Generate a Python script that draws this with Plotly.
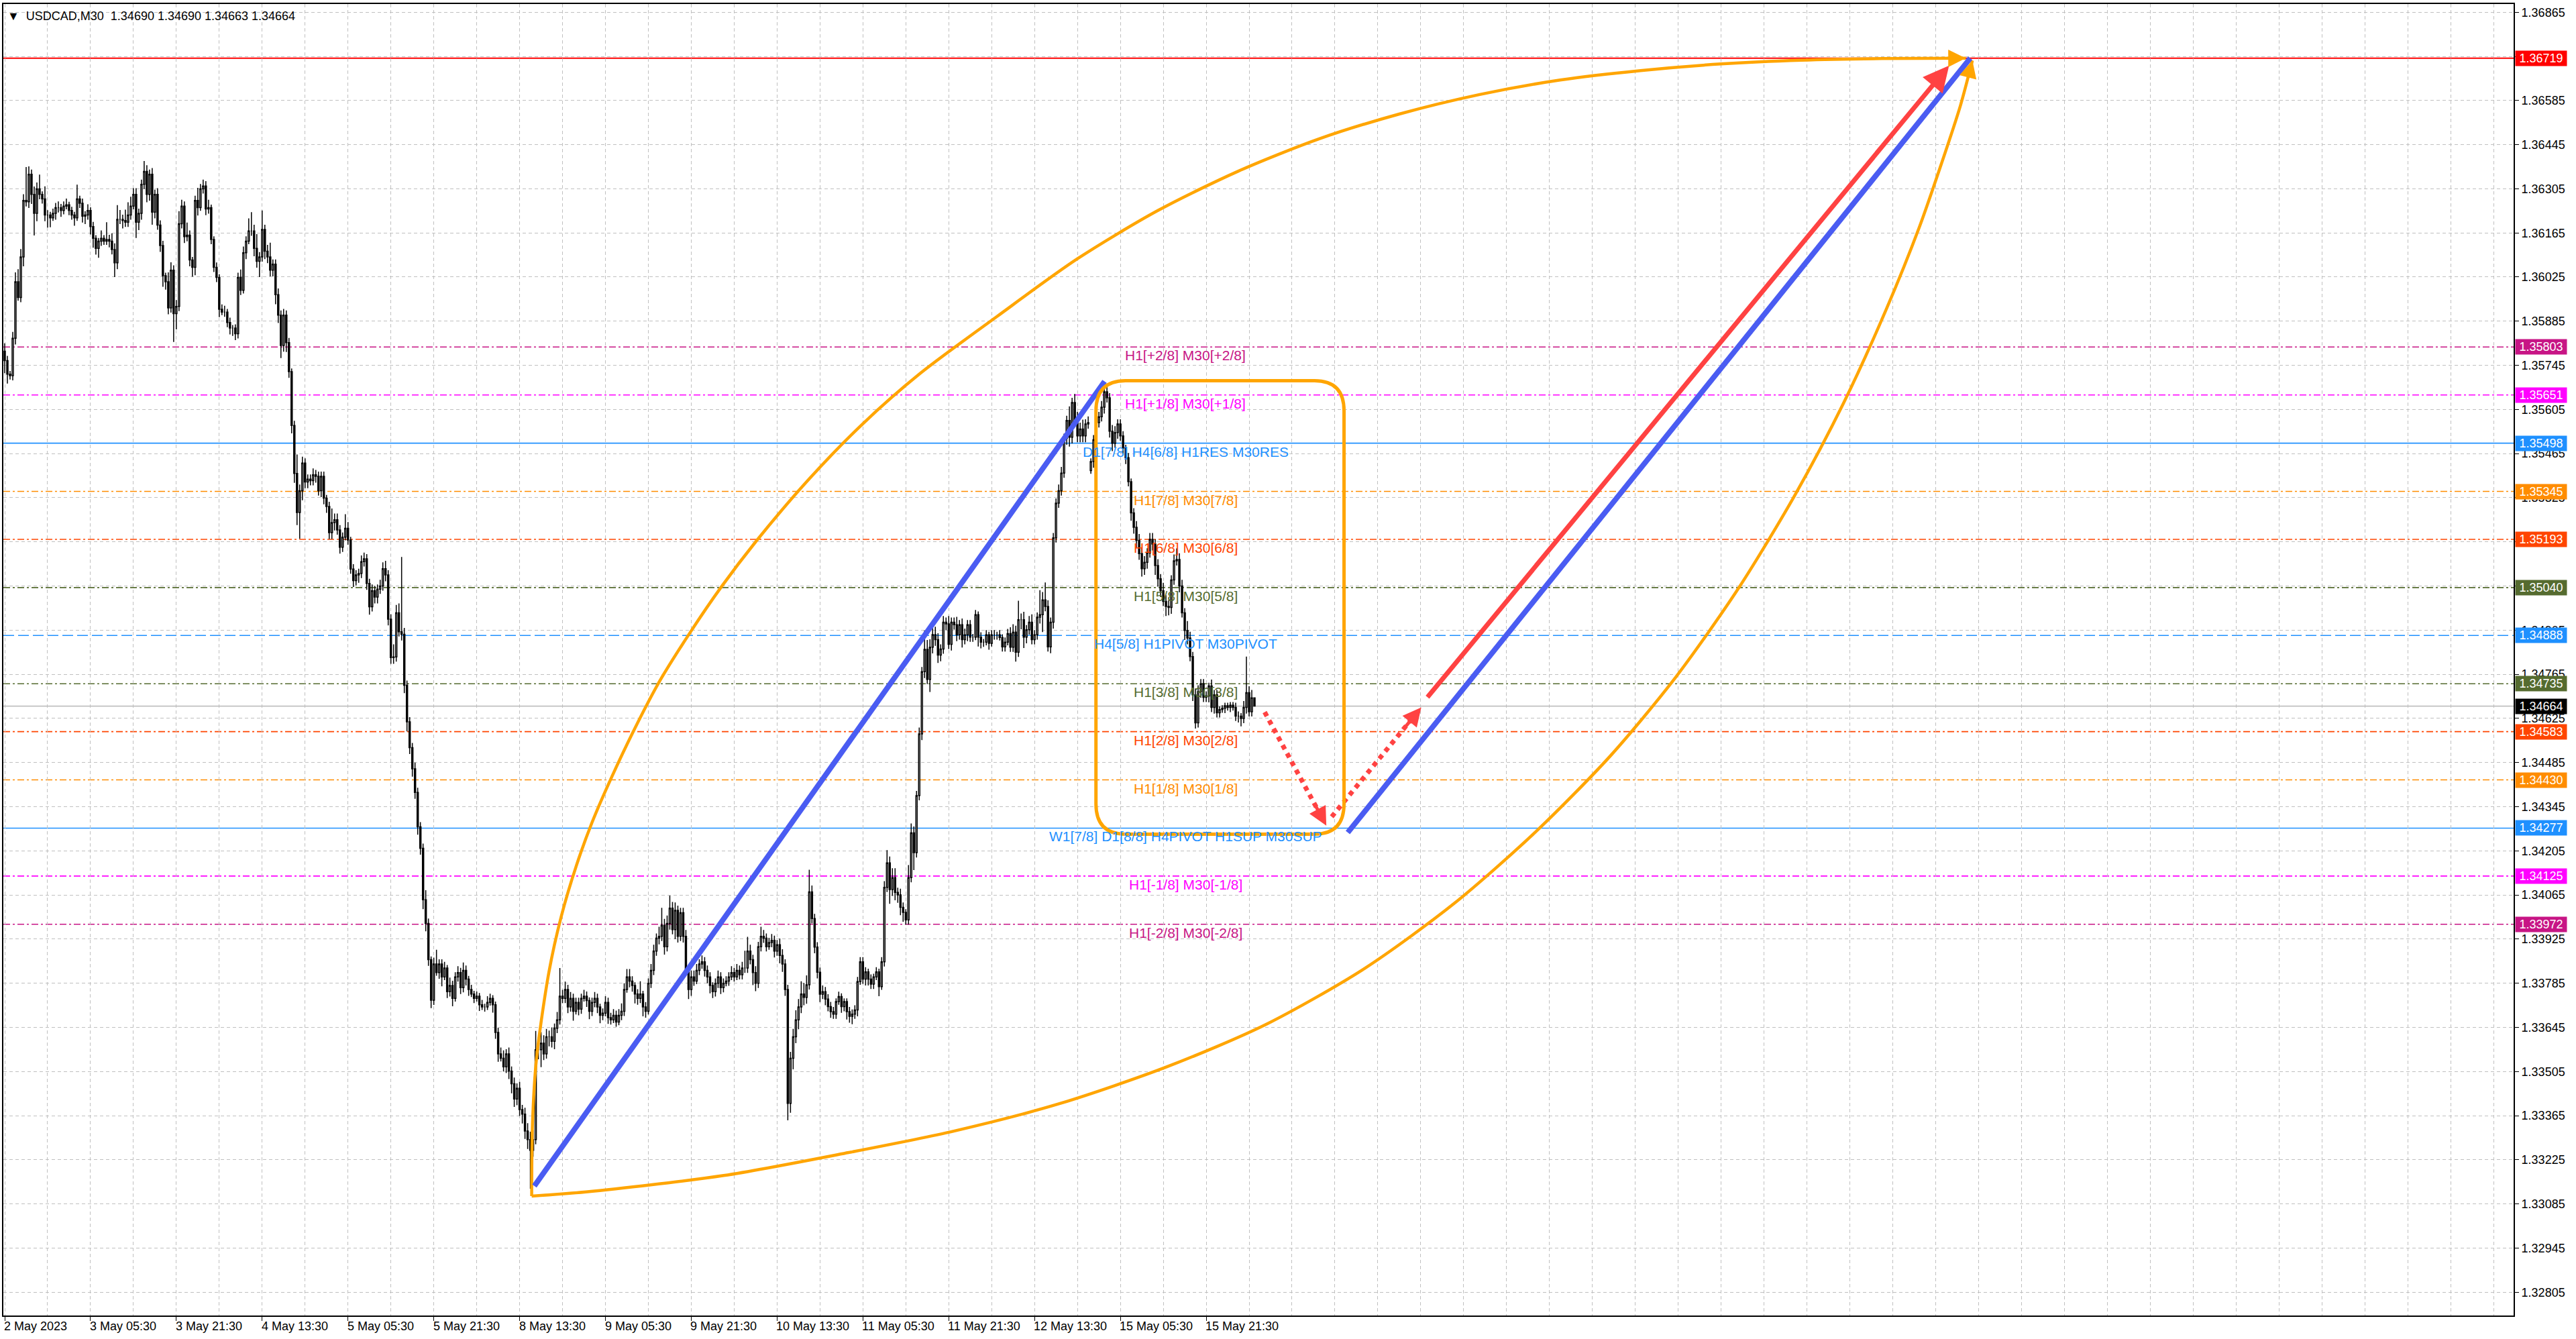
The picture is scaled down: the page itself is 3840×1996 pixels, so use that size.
import plotly.graph_objects as go

BASE = 1.30000          # prices are stored as points (1e-5) above this
FONT = "Liberation Sans"

# USDCAD M30 bars, one list per trading day: (close, upper wick, lower wick) in points.
# open of a bar = close of the bar before it (except the weekend gap below)
may02 = [
    (5760, 25, 40), (5717, 15, 30), (5712, 10, 12), (5831, 20, 15), (6010, 30, 20), (5960, 40, 10), (6089, 25, 15), (6268, 20, 30), (6264, 106, 15), (6351, 25, 20),
    (6287, 15, 30), (6227, 25, 70), (6305, 20, 25), (6287, 45, 15), (6273, 10, 15), (6222, 40, 20), (6222, 15, 40), (6213, 10, 30), (6227, 15, 10), (6245, 15, 20),
    (6245, 20, 15),
]
may03 = [
    (6236, 12, 20), (6250, 15, 12), (6254, 20, 10), (6236, 10, 15), (6222, 12, 15), (6213, 10, 25), (6273, 45, 10), (6259, 10, 15), (6218, 15, 20), (6222, 12, 25),
    (6236, 20, 15), (6185, 10, 25), (6148, 15, 30), (6116, 10, 20), (6139, 10, 30), (6148, 25, 15), (6139, 10, 12), (6144, 55, 12), (6139, 15, 20), (6112, 25, 15),
    (6070, 20, 45), (6208, 45, 20), (6208, 30, 15), (6204, 15, 25), (6199, 35, 15), (6222, 40, 15), (6250, 30, 15), (6287, 20, 10), (6199, 20, 50), (6227, 15, 25),
    (6319, 15, 20), (6360, 33, 15), (6287, 20, 25), (6351, 15, 20), (6231, 20, 40), (6287, 15, 20), (6190, 20, 15), (6125, 15, 20), (6029, 15, 35), (6010, 10, 25),
    (5927, 30, 20), (6047, 25, 15), (5909, 15, 90), (5932, 20, 50), (6194, 40, 15), (6250, 20, 15), (6153, 15, 20), (6158, 40, 15),
]
may04 = [
    (6079, 15, 20), (6056, 10, 30), (6268, 15, 25), (6245, 40, 25), (6305, 15, 10), (6314, 20, 15), (6241, 15, 20), (6245, 25, 15), (6144, 10, 15), (6056, 10, 15),
    (6024, 15, 15), (5923, 10, 25), (5914, 15, 10), (5914, 20, 15), (5881, 10, 15), (5863, 15, 20), (5863, 10, 25), (5845, 12, 20), (6024, 15, 15), (5983, 25, 15),
    (6102, 20, 10), (6139, 15, 20), (6171, 40, 10), (6171, 60, 15), (6116, 20, 25), (6075, 45, 20), (6089, 15, 50), (6176, 60, 15), (6107, 15, 25), (6089, 20, 20),
    (6047, 45, 20), (6066, 15, 20), (5969, 15, 30), (5904, 20, 25), (5808, 15, 40), (5904, 20, 20), (5817, 15, 30), (5725, 15, 20), (5554, 10, 25), (5402, 15, 30),
    (5278, 60, 40), (5347, 20, 83), (5435, 20, 30), (5375, 15, 20), (5384, 15, 20), (5379, 15, 15), (5398, 20, 15), (5393, 15, 20),
]
may05 = [
    (5347, 15, 15), (5393, 15, 20), (5324, 15, 20), (5297, 10, 20), (5214, 15, 20), (5246, 45, 20), (5255, 20, 25), (5223, 20, 15), (5168, 15, 20), (5200, 15, 15),
    (5228, 45, 10), (5191, 20, 15), (5099, 10, 15), (5062, 15, 20), (5080, 15, 15), (5085, 15, 25), (5122, 20, 15), (5131, 20, 15), (5053, 15, 20), (4979, 15, 25),
    (5030, 20, 15), (5010, 15, 20), (5035, 15, 20), (5045, 20, 15), (5100, 20, 15), (5080, 25, 20), (4940, 15, 20), (4818, 15, 20), (4820, 40, 20), (4960, 25, 15),
    (4900, 30, 15), (4892, 237, 20), (4730, 20, 25), (4614, 15, 30), (4532, 15, 20), (4465, 15, 25), (4390, 20, 20), (4281, 15, 25), (4213, 15, 20), (4050, 15, 30),
    (3975, 30, 25), (3860, 15, 20), (3731, 10, 25), (3846, 20, 15), (3819, 45, 10), (3846, 15, 20), (3805, 15, 30), (3833, 20, 10),
]
may08 = [
    (3758, 10, 20), (3778, 25, 15), (3737, 15, 25), (3805, 15, 10), (3819, 20, 15), (3771, 15, 20), (3826, 25, 15), (3798, 15, 20), (3765, 10, 20), (3751, 15, 10),
    (3737, 10, 15), (3744, 15, 10), (3717, 10, 20), (3710, 15, 10), (3710, 10, 15), (3724, 20, 10), (3737, 15, 10), (3717, 10, 25), (3629, 10, 20), (3561, 15, 25),
    (3547, 20, 10), (3520, 25, 15), (3561, 15, 20), (3506, 20, 25), (3466, 15, 30), (3418, 20, 25), (3452, 15, 20), (3384, 20, 20), (3370, 15, 30), (3316, 20, 25),
    (3289, 25, 30), (3255, 25, 122), (3289, 30, 20), (3574, 60, 15), (3574, 40, 30), (3595, 35, 55), (3561, 25, 20), (3615, 25, 15), (3615, 20, 30), (3601, 30, 20),
    (3642, 15, 25), (3669, 25, 15), (3744, 89, 15), (3737, 20, 15), (3765, 25, 15), (3710, 15, 20), (3737, 20, 15), (3696, 15, 30),
]
may09 = [
    (3724, 15, 10), (3703, 15, 20), (3737, 15, 15), (3744, 20, 10), (3730, 15, 20), (3696, 10, 25), (3724, 15, 15), (3737, 20, 15), (3710, 15, 20), (3683, 10, 25),
    (3690, 15, 15), (3724, 20, 10), (3676, 15, 20), (3669, 15, 15), (3683, 20, 10), (3662, 15, 15), (3683, 20, 10), (3696, 25, 15), (3765, 20, 15), (3805, 25, 10),
    (3792, 25, 20), (3778, 15, 20), (3751, 10, 30), (3737, 15, 20), (3751, 40, 15), (3710, 10, 30), (3696, 15, 20), (3785, 15, 10), (3826, 20, 15), (3887, 20, 15),
    (3928, 15, 15), (3934, 30, 20), (3969, 55, 15), (3901, 20, 25), (3975, 25, 15), (4023, 40, 20), (3955, 20, 15), (4016, 25, 30), (3934, 15, 20), (4009, 15, 15),
    (3934, 15, 20), (3826, 20, 15), (3765, 15, 30), (3805, 20, 20), (3792, 20, 15), (3826, 20, 10), (3846, 15, 15), (3853, 20, 15),
]
may10 = [
    (3826, 15, 20), (3805, 15, 20), (3778, 15, 25), (3758, 10, 20), (3785, 15, 15), (3805, 20, 15), (3771, 15, 20), (3785, 15, 15), (3792, 15, 10), (3805, 15, 15),
    (3819, 20, 10), (3805, 15, 15), (3826, 20, 10), (3812, 15, 15), (3833, 20, 15), (3833, 55, 15), (3887, 45, 15), (3860, 20, 15), (3819, 15, 40), (3785, 20, 25),
    (3901, 15, 15), (3934, 30, 15), (3928, 20, 15), (3901, 15, 15), (3914, 15, 10), (3921, 20, 15), (3887, 15, 20), (3907, 15, 15), (3873, 20, 25), (3846, 20, 25),
    (3765, 15, 20), (3404, 15, 54), (3547, 20, 30), (3615, 25, 35), (3669, 30, 20), (3710, 25, 30), (3751, 40, 20), (3740, 35, 25), (3780, 30, 20), (4075, 70, 15),
    (3990, 20, 15), (3900, 15, 20), (3820, 15, 20), (3750, 15, 25), (3758, 20, 15), (3735, 15, 20), (3711, 15, 15), (3695, 15, 20),
]
may11 = [
    (3687, 15, 15), (3727, 10, 15), (3743, 15, 10), (3711, 10, 20), (3727, 10, 15), (3695, 10, 25), (3680, 15, 20), (3687, 15, 25), (3700, 15, 15), (3790, 15, 20),
    (3853, 15, 10), (3798, 15, 15), (3821, 15, 20), (3798, 10, 20), (3782, 15, 15), (3805, 10, 15), (3821, 15, 10), (3774, 10, 30), (3853, 15, 10), (4089, 20, 15),
    (4167, 40, 15), (4082, 20, 45), (4120, 30, 20), (4073, 30, 25), (4065, 15, 25), (4026, 20, 25), (4010, 15, 30), (3986, 10, 15), (4120, 40, 15), (4262, 30, 15),
    (4199, 20, 55), (4380, 15, 15), (4576, 20, 15), (4773, 15, 20), (4844, 60, 20), (4749, 30, 15), (4851, 25, 40), (4891, 20, 20), (4875, 25, 20), (4826, 20, 25),
    (4845, 15, 20), (4930, 20, 15), (4925, 15, 20), (4860, 25, 15), (4930, 15, 20), (4922, 15, 15), (4890, 25, 20), (4922, 15, 15),
]
may12 = [
    (4875, 20, 25), (4890, 20, 15), (4922, 15, 20), (4883, 15, 15), (4883, 10, 15), (4954, 15, 10), (4883, 10, 30), (4867, 15, 20), (4867, 10, 15), (4890, 15, 10),
    (4863, 10, 20), (4890, 15, 10), (4890, 15, 15), (4890, 10, 15), (4882, 15, 10), (4852, 10, 15), (4867, 15, 15), (4894, 15, 10), (4851, 20, 15), (4899, 25, 15),
    (4835, 20, 30), (4938, 60, 15), (4938, 20, 30), (4883, 25, 35), (4906, 15, 20), (4930, 20, 15), (4875, 25, 15), (4890, 15, 15), (4946, 15, 15), (4954, 78, 20),
    (5001, 25, 55), (4980, 55, 15), (4852, 20, 15), (4930, 15, 20), (5198, 15, 20), (5308, 15, 15), (5347, 20, 15), (5403, 20, 15), (5513, 15, 15), (5570, 15, 20),
    (5517, 45, 30), (5627, 15, 20), (5572, 27, 15), (5521, 25, 20), (5543, 20, 20), (5521, 30, 20), (5559, 15, 20), (5563, 20, 15),
]
may15 = [
    (5440, 10, 10), (5509, 15, 20), (5563, 15, 20), (5582, 15, 15), (5612, 20, 15), (5661, 15, 20), (5642, 19, 15), (5536, 15, 20), (5498, 20, 25), (5532, 20, 15),
    (5559, 15, 20), (5521, 15, 15), (5483, 15, 20), (5452, 10, 20), (5376, 15, 15), (5277, 10, 25), (5231, 15, 20), (5190, 20, 25), (5148, 20, 20), (5100, 20, 25),
    (5120, 20, 20), (5150, 15, 20), (5193, 20, 15), (5178, 20, 20), (5110, 15, 30), (5068, 20, 25), (5030, 15, 20), (4996, 25, 15), (4980, 20, 30), (4977, 20, 25),
    (5064, 15, 20), (5125, 20, 15), (5129, 35, 15), (5045, 20, 20), (4960, 20, 15), (4904, 15, 30), (4880, 30, 20), (4821, 20, 15), (4700, 15, 20), (4611, 20, 18),
    (4710, 20, 15), (4735, 15, 20), (4692, 15, 15), (4696, 15, 15), (4728, 10, 20), (4660, 20, 15), (4700, 15, 20), (4643, 15, 15),
]
may16 = [
    (4653, 10, 15), (4657, 10, 10), (4665, 10, 15), (4660, 10, 10), (4667, 10, 15), (4660, 10, 10), (4632, 15, 15), (4632, 15, 20), (4625, 10, 25), (4660, 20, 15),
    (4707, 114, 20), (4646, 20, 15), (4690, 25, 15), (4664, 0, 1),
]
first_open = 5790
gap_opens = {405: 5411}   # Monday 15 May opened below Friday's close

time_labels = ["2 May 2023", "3 May 05:30", "3 May 21:30", "4 May 13:30", "5 May 05:30",
               "5 May 21:30", "8 May 13:30", "9 May 05:30", "9 May 21:30", "10 May 13:30",
               "11 May 05:30", "11 May 21:30", "12 May 13:30", "15 May 05:30", "15 May 21:30"]

# Murrey math levels
level_prices = [1.35803, 1.35651, 1.35498, 1.35345, 1.35193, 1.35040, 1.34888,
                1.34735, 1.34583, 1.34430, 1.34277, 1.34125, 1.33972]
level_colors = ["#C71585", "#FF00FF", "#1E90FF", "#FF8C00", "#FF4500", "#556B2F", "#1E90FF",
                "#556B2F", "#FF4500", "#FF8C00", "#1E90FF", "#FF00FF", "#C71585"]
level_styles = ["dashdot", "dashdot", "solid", "dashdot", "dashdot", "dashdot", "dash",
                "dashdot", "dashdot", "dashdot", "solid", "dashdot", "dashdot"]
level_texts = ["H1[+2/8] M30[+2/8]", "H1[+1/8] M30[+1/8]", "D1[7/8] H4[6/8] H1RES M30RES",
               "H1[7/8] M30[7/8]", "H1[6/8] M30[6/8]", "H1[5/8] M30[5/8]", "H4[5/8] H1PIVOT M30PIVOT",
               "H1[3/8] M30[3/8]", "H1[2/8] M30[2/8]", "H1[1/8] M30[1/8]",
               "W1[7/8] D1[8/8] H4PIVOT H1SUP M30SUP", "H1[-1/8] M30[-1/8]", "H1[-2/8] M30[-2/8]"]
target_price = 1.36719
last_price = 1.34664
header = "USDCAD,M30  1.34690 1.34690 1.34663 1.34664"

# drawn objects, in (bar, price)
blue_leg1 = [(197.5, 1.33142), (410.1, 1.35694)]
blue_leg2 = [(500.8, 1.34263), (732.9, 1.36719)]
red_arrow = [(530.2, 1.34689), (725.0, 1.36696)]
dotted_down = [(469.8, 1.34645), (492.8, 1.34285)]
dotted_up = [(494.8, 1.34313), (528.2, 1.34660)]
upper_arc_x = [196.5, 196.8, 198.3, 202.9, 207.5, 213.2, 219.0, 225.9, 235.0, 244.2, 255.7, 267.2,
               280.0, 300.0, 320.0, 341.3, 370.0, 400.0, 430.0, 460.0, 490.0, 520.0, 550.0, 580.0,
               610.0, 640.0, 670.0, 700.0, 731.2]
upper_arc_y = [1.33110, 1.33340, 1.33547, 1.33819, 1.33996, 1.34159, 1.34295, 1.34431, 1.34594, 1.34743,
               1.34899, 1.35042, 1.35185, 1.35385, 1.35560, 1.35719, 1.35900, 1.36083, 1.36236, 1.36361,
               1.36463, 1.36542, 1.36604, 1.36650, 1.36680, 1.36701, 1.36713, 1.36718, 1.36719]
lower_arc_x = [196.5, 216.7, 268.1, 314.7, 353.9, 393.7, 433.4, 470.2, 506.9, 540.6, 571.2, 598.8,
               623.2, 646.5, 667.3, 685.7, 701.6, 713.9, 722.4, 729.2, 733.7]
lower_arc_y = [1.33110, 1.33123, 1.33175, 1.33248, 1.33316, 1.33404, 1.33520, 1.33654, 1.33831, 1.34039,
               1.34268, 1.34507, 1.34757, 1.35038, 1.35330, 1.35626, 1.35923, 1.36183, 1.36391, 1.36568,
               1.36712]
zone_box = dict(x0=406.9, x1=499.4, y0=1.34258, y1=1.35696, rx=11.0, ry=0.00096)

ORANGE = "#FFA500"
BLUE = "#4A5CF2"
RED = "#FF4242"
GRID = "#C0C0C0"
DASHDOT = "10px,4px,3px,4px"
DASH_LONG = "16px,6px"

days = [may02, may03, may04, may05, may08, may09, may10, may11, may12, may15, may16]
bars = [b for day in days for b in day]
assert len(bars) == 467, len(bars)

opens, highs, lows, closes = [], [], [], []
prev = first_open
for i, (c, up, dn) in enumerate(bars):
    o = gap_opens.get(i, prev)
    opens.append(BASE + o / 1e5)
    closes.append(BASE + c / 1e5)
    highs.append(BASE + (max(o, c) + up) / 1e5)
    lows.append(BASE + (min(o, c) - dn) / 1e5)
    prev = c
xs = list(range(len(bars)))

fig = go.Figure()

fig.add_trace(go.Candlestick(
    x=xs, open=opens, high=highs, low=lows, close=closes,
    increasing=dict(line=dict(color="black", width=1.5), fillcolor="white"),
    decreasing=dict(line=dict(color="black", width=1.5), fillcolor="black"),
    whiskerwidth=0, showlegend=False, hoverinfo="skip",
))

# orange arcs
for ax_, ay_ in [(upper_arc_x, upper_arc_y), (lower_arc_x, lower_arc_y)]:
    fig.add_trace(go.Scatter(x=ax_, y=ay_, mode="lines", line=dict(color=ORANGE, width=4.5, shape="spline", smoothing=0.8),
                             showlegend=False, hoverinfo="skip"))

# blue trend legs
for leg in [blue_leg1, blue_leg2]:
    fig.add_trace(go.Scatter(x=[p[0] for p in leg], y=[p[1] for p in leg], mode="lines",
                             line=dict(color=BLUE, width=8), showlegend=False, hoverinfo="skip"))

# red dotted path
for seg in [dotted_down, dotted_up]:
    (x0, y0), (x1, y1) = seg
    fig.add_trace(go.Scatter(x=[x0, x0 + 0.9 * (x1 - x0)], y=[y0, y0 + 0.9 * (y1 - y0)], mode="lines",
                             line=dict(color=RED, width=7, dash="dot"), showlegend=False, hoverinfo="skip"))

shapes = []
for p, col, st in zip(level_prices, level_colors, level_styles):
    dash = {"dashdot": DASHDOT, "dash": DASH_LONG, "solid": "solid"}[st]
    shapes.append(dict(type="line", xref="paper", x0=0, x1=1, yref="y", y0=p, y1=p,
                       line=dict(color=col, width=1.6, dash=dash), layer="below"))
shapes.append(dict(type="line", xref="paper", x0=0, x1=1, yref="y", y0=last_price, y1=last_price,
                   line=dict(color=GRID, width=1.6), layer="below"))
shapes.append(dict(type="line", xref="paper", x0=0, x1=1, yref="y", y0=target_price, y1=target_price,
                   line=dict(color="#FF0000", width=2), layer="below"))

b = zone_box
path = (f"M {b['x0'] + b['rx']},{b['y1']} L {b['x1'] - b['rx']},{b['y1']} "
        f"Q {b['x1']},{b['y1']} {b['x1']},{b['y1'] - b['ry']} L {b['x1']},{b['y0'] + b['ry']} "
        f"Q {b['x1']},{b['y0']} {b['x1'] - b['rx']},{b['y0']} L {b['x0'] + b['rx']},{b['y0']} "
        f"Q {b['x0']},{b['y0']} {b['x0']},{b['y0'] + b['ry']} L {b['x0']},{b['y1'] - b['ry']} "
        f"Q {b['x0']},{b['y1']} {b['x0'] + b['rx']},{b['y1']} Z")
shapes.append(dict(type="path", path=path, xref="x", yref="y", line=dict(color=ORANGE, width=5)))

annotations = []
label_x = 440.25
for p, col, txt in zip(level_prices, level_colors, level_texts):
    annotations.append(dict(x=label_x, y=p, xref="x", yref="y", text=txt, showarrow=False,
                            xanchor="center", yanchor="top", borderpad=0,
                            font=dict(family=FONT, size=21, color=col)))

# price tags on the right scale
tags = list(zip(level_prices, level_colors)) + [(target_price, "#FF0000"), (last_price, "#000000")]
for p, col in tags:
    annotations.append(dict(x=1, y=p, xref="paper", yref="y", text=f"{p:.5f}", showarrow=False,
                            xanchor="left", yanchor="middle", xshift=2, bgcolor=col, width=74, height=20,
                            borderpad=1, font=dict(family=FONT, size=18, color="white")))

# time labels under ticks
for i, lab in enumerate(time_labels):
    annotations.append(dict(x=i * 32, y=0, xref="x", yref="paper", text=lab, showarrow=False,
                            xanchor="left", yanchor="top", yshift=-4, xshift=-3,
                            font=dict(family=FONT, size=18, color="black")))

annotations.append(dict(x=0, y=1, xref="paper", yref="paper", xanchor="left", yanchor="top",
                        xshift=4, yshift=-6, showarrow=False,
                        text="\u25bc\u00a0\u00a0" + header.replace("  ", "\u00a0\u00a0"),
                        font=dict(family=FONT, size=18, color="black")))

# arrow heads
(sx, sy), (ex, ey) = red_arrow
annotations.append(dict(x=ex, y=ey, ax=sx, ay=sy, xref="x", yref="y", axref="x", ayref="y", text="",
                        showarrow=True, arrowhead=2, arrowsize=1.1, arrowwidth=7, arrowcolor=RED))
for seg in [dotted_down, dotted_up]:
    (x0, y0), (x1, y1) = seg
    annotations.append(dict(x=x1, y=y1, ax=x0 + 0.8 * (x1 - x0), ay=y0 + 0.8 * (y1 - y0),
                            xref="x", yref="y", axref="x", ayref="y", text="",
                            showarrow=True, arrowhead=2, arrowsize=1.1, arrowwidth=5, arrowcolor=RED))
for ax_, ay_ in [(upper_arc_x, upper_arc_y), (lower_arc_x, lower_arc_y)]:
    annotations.append(dict(x=ax_[-1], y=ay_[-1], ax=ax_[-2] + 0.8 * (ax_[-1] - ax_[-2]),
                            ay=ay_[-2] + 0.8 * (ay_[-1] - ay_[-2]),
                            xref="x", yref="y", axref="x", ayref="y", text="",
                            showarrow=True, arrowhead=2, arrowsize=1.3, arrowwidth=4, arrowcolor=ORANGE))

fig.update_layout(
    width=3840, height=1996,
    margin=dict(l=3, r=93, t=6, b=35),
    paper_bgcolor="white", plot_bgcolor="white",
    shapes=shapes, annotations=annotations,
    showlegend=False,
    xaxis=dict(
        range=[-0.5, 935.5], rangeslider=dict(visible=False),
        tickmode="array", tickvals=[i * 32 for i in range(len(time_labels))],
        ticktext=["" for _ in time_labels], ticks="outside", ticklen=6, tickcolor="black",
        showgrid=True, gridcolor=GRID, griddash="5px,4px", gridwidth=1,
        minor=dict(tickmode="linear", tick0=0, dtick=16, showgrid=True, gridcolor=GRID,
                   griddash="5px,4px", gridwidth=1, ticks=""),
        showline=True, linecolor="black", linewidth=2, mirror=True, zeroline=False,
    ),
    yaxis=dict(
        side="right", range=[1.32731, 1.36891],
        tickmode="linear", tick0=1.32805, dtick=0.0014, tickformat=".5f",
        ticks="outside", ticklen=6, tickcolor="black",
        tickfont=dict(family=FONT, size=18, color="black"),
        showgrid=True, gridcolor=GRID, griddash="5px,4px", gridwidth=1,
        showline=True, linecolor="black", linewidth=2, mirror=True, zeroline=False,
    ),
)

fig.write_html("out.html", config={"displayModeBar": False},
               post_script="document.body.style.margin='0px';")
